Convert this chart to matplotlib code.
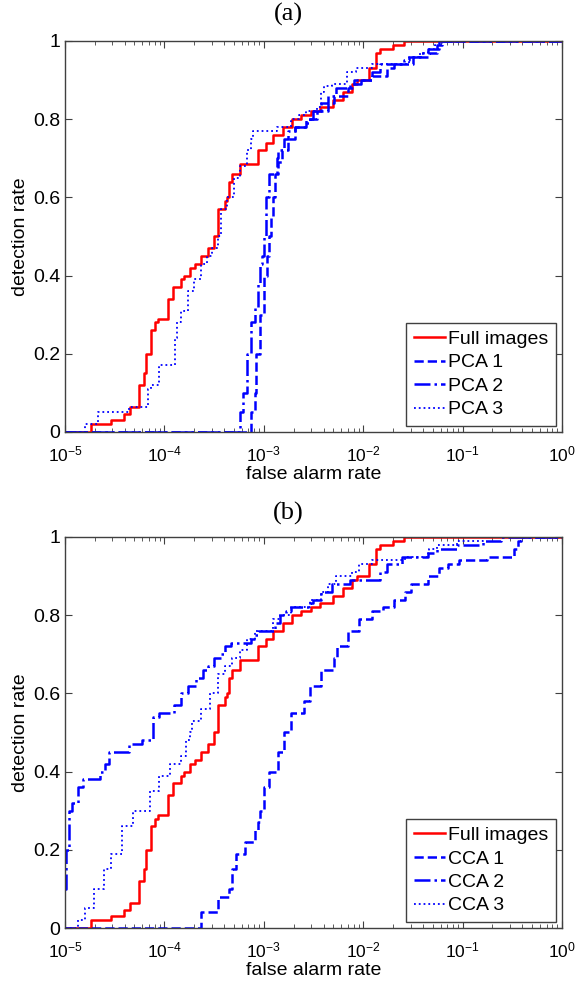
import matplotlib
matplotlib.use('Agg')
import matplotlib.pyplot as plt
import numpy as np

plt.rcParams['font.family'] = ['Liberation Sans', 'DejaVu Sans']
plt.rcParams['font.size'] = 14

# false alarm rates are stored as log10 values, detection rates as fractions
full_log = [-5.0, -4.74, -4.54, -4.41, -4.35, -4.26, -4.20, -4.185, -4.13, -4.09, -4.06,
            -3.96, -3.91, -3.83, -3.80, -3.74, -3.69, -3.63, -3.56, -3.50, -3.46, -3.39,
            -3.37, -3.35, -3.32, -3.24, -3.06, -2.98, -2.91, -2.81, -2.72, -2.63, -2.52,
            -2.43, -2.30, -2.20, -2.11, -2.06, -1.94, -1.87, -1.83, -1.70, -1.59, 0.0]
full_det = [0.0, 0.02, 0.03, 0.045, 0.065, 0.12, 0.15, 0.20, 0.26, 0.28, 0.29,
            0.34, 0.37, 0.39, 0.40, 0.42, 0.43, 0.45, 0.47, 0.50, 0.57, 0.59,
            0.60, 0.64, 0.66, 0.685, 0.72, 0.74, 0.76, 0.78, 0.80, 0.81, 0.82,
            0.83, 0.85, 0.87, 0.89, 0.90, 0.93, 0.97, 0.98, 0.99, 1.0, 1.0]

pca1_log = [-5.0, -3.185, -3.13, -3.093, -3.074, -3.037, -3.0, -2.963, -2.944, -2.926,
            -2.907, -2.889, -2.852, -2.815, -2.759, -2.685, -2.574, -2.537, -2.463,
            -2.352, -2.296, -2.148, -2.093, -1.907, -1.759, -1.685, -1.50, -1.333,
            -1.259, -1.204, 0.0]
pca1_det = [0.0, 0.0, 0.05, 0.10, 0.20, 0.30, 0.40, 0.45, 0.50, 0.55,
            0.60, 0.66, 0.69, 0.72, 0.75, 0.78, 0.79, 0.80, 0.82,
            0.84, 0.86, 0.88, 0.90, 0.91, 0.93, 0.94, 0.96, 0.97,
            0.99, 1.0, 1.0]

pca2_log = [-5.0, -3.278, -3.241, -3.204, -3.167, -3.13, -3.093, -3.056, -3.037, -3.019,
            -3.0, -2.981, -2.944, -2.870, -2.852, -2.796, -2.759, -2.685, -2.574, -2.50,
            -2.426, -2.352, -2.278, -2.13, -2.019, -1.907, -1.833, -1.593, -1.537,
            -1.426, -1.352, -1.241, 0.0]
pca2_det = [0.0, 0.0, 0.05, 0.10, 0.20, 0.28, 0.32, 0.38, 0.43, 0.45,
            0.50, 0.60, 0.66, 0.70, 0.72, 0.75, 0.77, 0.78, 0.80, 0.82,
            0.84, 0.86, 0.88, 0.89, 0.90, 0.92, 0.94, 0.95, 0.96,
            0.97, 0.98, 1.0, 1.0]

pca3_log = [-5.0, -4.87, -4.796, -4.667, -4.352, -4.167, -4.13, -4.056, -3.889, -3.87,
            -3.833, -3.759, -3.704, -3.63, -3.574, -3.519, -3.463, -3.426, -3.37, -3.296,
            -3.241, -3.167, -3.13, -3.111, -2.87, -2.722, -2.648, -2.574, -2.463, -2.426,
            -2.389, -2.315, -2.167, -2.074, -1.907, -1.537, -1.426, -1.352, -1.278,
            -1.204, 0.0]
pca3_det = [0.0, 0.0, 0.02, 0.05, 0.065, 0.11, 0.12, 0.17, 0.24, 0.28,
            0.31, 0.36, 0.39, 0.43, 0.45, 0.47, 0.50, 0.57, 0.60, 0.65,
            0.68, 0.72, 0.75, 0.77, 0.78, 0.80, 0.81, 0.82, 0.83, 0.87,
            0.885, 0.89, 0.92, 0.93, 0.94, 0.96, 0.97, 0.98, 0.99,
            1.0, 1.0]

cca1_log = [-5.0, -3.648, -3.63, -3.463, -3.352, -3.315, -3.278, -3.185, -3.093, -3.056,
            -3.037, -3.0, -2.944, -2.852, -2.796, -2.722, -2.593, -2.537, -2.426, -2.296,
            -2.259, -2.148, -2.037, -1.907, -1.796, -1.685, -1.574, -1.519, -1.352,
            -1.241, -1.148, -1.037, -0.759, -0.481, -0.444, -0.407, 0.0]
cca1_det = [0.0, 0.0, 0.04, 0.08, 0.10, 0.15, 0.19, 0.22, 0.25, 0.27,
            0.30, 0.36, 0.40, 0.45, 0.50, 0.55, 0.58, 0.62, 0.66, 0.69,
            0.72, 0.76, 0.79, 0.81, 0.82, 0.84, 0.86, 0.88, 0.90,
            0.92, 0.93, 0.94, 0.95, 0.97, 0.99, 1.0, 1.0]

cca2_log = [-5.0, -4.989, -4.963, -4.926, -4.870, -4.815, -4.648, -4.593, -4.556, -4.352,
            -4.222, -4.111, -4.056, -3.907, -3.833, -3.759, -3.685, -3.611, -3.556, -3.50,
            -3.426, -3.389, -3.333, -3.130, -3.093, -3.056, -2.889, -2.833, -2.778, -2.722,
            -2.537, -2.50, -2.426, -2.315, -2.130, -1.833, -1.759, -1.611, -1.352, -1.259,
            -1.056, -0.796, -0.611, 0.0]
cca2_det = [0.10, 0.20, 0.30, 0.32, 0.36, 0.38, 0.40, 0.42, 0.45, 0.47,
            0.48, 0.54, 0.55, 0.57, 0.60, 0.62, 0.64, 0.66, 0.67, 0.69,
            0.70, 0.72, 0.73, 0.74, 0.75, 0.76, 0.78, 0.80, 0.81, 0.82,
            0.83, 0.84, 0.86, 0.88, 0.89, 0.91, 0.93, 0.95, 0.96, 0.97,
            0.98, 0.99, 1.0, 1.0]

cca3_log = [-5.0, -4.926, -4.870, -4.796, -4.704, -4.611, -4.537, -4.426, -4.315, -4.148,
            -4.056, -3.944, -3.833, -3.778, -3.741, -3.722, -3.630, -3.537, -3.463, -3.389,
            -3.315, -3.241, -3.167, -3.093, -2.907, -2.833, -2.722, -2.537, -2.426, -2.352,
            -2.278, -2.111, -2.037, -1.907, -1.574, -1.352, -1.333, -1.259, -1.056,
            -0.796, 0.0]
cca3_det = [0.0, 0.0, 0.02, 0.05, 0.10, 0.15, 0.19, 0.26, 0.30, 0.35,
            0.39, 0.42, 0.44, 0.48, 0.50, 0.53, 0.56, 0.60, 0.65, 0.67,
            0.69, 0.71, 0.74, 0.76, 0.79, 0.80, 0.82, 0.84, 0.86, 0.88,
            0.90, 0.91, 0.93, 0.94, 0.95, 0.96, 0.97, 0.98, 0.99,
            1.0, 1.0]

yticks = [0, 0.2, 0.4, 0.6, 0.8, 1]
ytick_labels = ['0', '0.2', '0.4', '0.6', '0.8', '1']

panels = [
    ('(a)', [('Full images', full_log, full_det, 'red', '-'),
             ('PCA 1', pca1_log, pca1_det, 'blue', '--'),
             ('PCA 2', pca2_log, pca2_det, 'blue', '-.'),
             ('PCA 3', pca3_log, pca3_det, 'blue', ':')]),
    ('(b)', [('Full images', full_log, full_det, 'red', '-'),
             ('CCA 1', cca1_log, cca1_det, 'blue', '--'),
             ('CCA 2', cca2_log, cca2_det, 'blue', '-.'),
             ('CCA 3', cca3_log, cca3_det, 'blue', ':')]),
]

fig = plt.figure(figsize=(5.76, 9.86), dpi=100)
ax_boxes = [[0.1128, 0.5619, 0.8628, 0.3966], [0.1128, 0.0588, 0.8628, 0.3966]]
title_y = [0.985, 0.4795]

for (title, curves), box, ty in zip(panels, ax_boxes, title_y):
    ax = fig.add_axes(box)
    for name, lx, dy, col, ls in curves:
        lw = 1.3 if ls == ':' else 1.8
        ax.plot(10 ** np.array(lx), dy, color=col, linestyle=ls, linewidth=lw,
                drawstyle='steps-post', label=name)
    ax.set_xscale('log')
    ax.set_xlim(1e-5, 1)
    ax.set_ylim(0, 1)
    ax.set_yticks(yticks)
    ax.set_yticklabels(ytick_labels)
    ax.tick_params(which='both', direction='in', top=True, right=True, colors='0.25',
                   labelcolor='black', labelsize=14)
    ax.tick_params(which='major', length=5)
    ax.tick_params(which='minor', length=3)
    ax.tick_params(axis='x', which='both', pad=9)
    ax.tick_params(axis='x', labelsize=12.5)
    for sp in ax.spines.values():
        sp.set_color('0.25')
        sp.set_linewidth(1.0)
    ax.set_xlabel('false alarm rate', fontsize=14, labelpad=1)
    ax.set_ylabel('detection rate', fontsize=14, labelpad=3)
    leg = ax.legend(loc='lower right', fontsize=14, handlelength=1.6, handletextpad=0.15,
                    labelspacing=0.3, borderpad=0.4, borderaxespad=0.3,
                    fancybox=False, framealpha=1, edgecolor='0.25')
    leg.get_frame().set_linewidth(1.0)
    fig.text(0.5, ty, title, ha='center', va='center', fontsize=19,
             family=['Liberation Serif', 'DejaVu Serif'])

fig.savefig('out.png', dpi=100)
